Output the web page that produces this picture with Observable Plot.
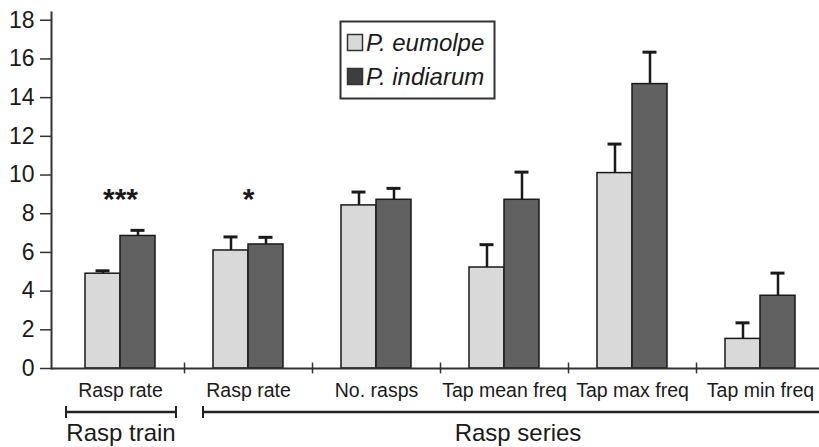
<!DOCTYPE html>
<html>
<head>
<meta charset="utf-8">
<script src="https://cdn.jsdelivr.net/npm/d3@7"></script>
<script src="https://cdn.jsdelivr.net/npm/@observablehq/plot@0.6"></script>
<style>
  html, body { margin: 0; padding: 0; background: #fff; }
  #chart svg { display: block; font-family: "Liberation Sans", Arial, Helvetica, sans-serif; }
</style>
</head>
<body>
<div id="chart"></div>
<script>
// ---- data ----
const keys = ["train_rate", "series_rate", "no_rasps", "tap_mean", "tap_max", "tap_min"];
const categoryLabels = ["Rasp rate", "Rasp rate", "No. rasps", "Tap mean freq", "Tap max freq", "Tap min freq"];
const species = ["P. eumolpe", "P. indiarum"];
const eumolpeMean = [4.9, 6.1, 8.43, 5.22, 10.1, 1.53];
const eumolpeErr  = [0.15, 0.7, 0.69, 1.18, 1.5, 0.83];
const indiarumMean = [6.85, 6.41, 8.72, 8.72, 14.7, 3.76];
const indiarumErr  = [0.29, 0.37, 0.59, 1.43, 1.65, 1.17];
const significance = ["***", "*", "", "", "", ""];
const groupLabels = ["Rasp train", "Rasp series"];
const groupFirst = [0, 1];
const groupLast = [0, 5];
const yTicks = [0, 2, 4, 6, 8, 10, 12, 14, 16, 18];

// ---- layout / style ----
const W = 819, H = 447;
const xRange = [56, 824];
const bw = (xRange[1] - xRange[0]) / keys.length;
const barW = 35, barOut = (bw - 2 * barW) / 2;
const capW = 14;
const lightFill = "#d9d9d9", darkFill = "#616161";
const ink = "#1a1a1a";

const eum = keys.map((k, i) => ({key: k, value: eumolpeMean[i], err: eumolpeErr[i]}));
const ind = keys.map((k, i) => ({key: k, value: indiarumMean[i], err: indiarumErr[i]}));
const sig = keys.map((k, i) => ({key: k, s: significance[i]})).filter(d => d.s);
const labelOf = Object.fromEntries(keys.map((k, i) => [k, categoryLabels[i]]));

const chart = Plot.plot({
  width: W,
  height: H,
  marginLeft: 51,
  marginRight: 0,
  marginTop: 12,
  marginBottom: 79,
  style: {fontFamily: '"Liberation Sans", Arial, Helvetica, sans-serif', color: ink, background: "#fff"},
  x: {type: "band", domain: keys, range: xRange, padding: 0},
  y: {domain: [0, 18.4]},
  marks: [
    Plot.rectY(eum, {x: "key", y: "value", fill: lightFill, stroke: ink, strokeWidth: 1.5,
      insetLeft: barOut, insetRight: barOut + barW}),
    Plot.rectY(ind, {x: "key", y: "value", fill: darkFill, stroke: ink, strokeWidth: 1.5,
      insetLeft: barOut + barW, insetRight: barOut}),
    // error bars
    Plot.ruleX(eum, {x: "key", y1: "value", y2: d => d.value + d.err, dx: -barW / 2, stroke: ink, strokeWidth: 2.5}),
    Plot.ruleX(ind, {x: "key", y1: "value", y2: d => d.value + d.err, dx: barW / 2, stroke: ink, strokeWidth: 2.5}),
    Plot.tickY(eum, {x: "key", y: d => d.value + d.err, stroke: ink, strokeWidth: 3,
      insetLeft: bw / 2 - barW / 2 - capW / 2, insetRight: bw / 2 + barW / 2 - capW / 2}),
    Plot.tickY(ind, {x: "key", y: d => d.value + d.err, stroke: ink, strokeWidth: 3,
      insetLeft: bw / 2 + barW / 2 - capW / 2, insetRight: bw / 2 - barW / 2 - capW / 2}),
    // significance stars
    Plot.text(sig, {x: "key", y: () => 9.16, text: "s", fontSize: 30, fontWeight: "bold", fill: ink, dy: 8}),
    // axes
    Plot.ruleY([0], {stroke: "#333", strokeWidth: 2}),
    Plot.frame({anchor: "left", stroke: "#333", strokeWidth: 2}),
    Plot.ruleX(keys.slice(1), {x: d => d, dx: -bw / 2, y1: () => -0.28, y2: () => 0.28, stroke: "#333", strokeWidth: 1.5}),
    Plot.axisY({ticks: yTicks, tickSize: 11, tickPadding: 6, fontSize: 23, fill: ink, stroke: "#333", strokeWidth: 1.5, label: null, tickFormat: d => String(d)}),
    Plot.axisX({tickSize: 0, tickPadding: 14.5, fontSize: 19.5, fill: ink, label: null, tickFormat: k => labelOf[k]})
  ]
});

document.getElementById("chart").appendChild(chart);

// ---- annotations: group brackets & legend ----
const svg = d3.select(chart);
const xs = chart.scale("x");
const bracketY = 412;
const bracketInsetL = [10, 19];
const bracketInsetR = [8, -9];
groupLabels.forEach((lab, i) => {
  const x0 = xs.apply(keys[groupFirst[i]]) + bracketInsetL[i];
  const x1 = xs.apply(keys[groupLast[i]]) + xs.bandwidth - bracketInsetR[i];
  const g = svg.append("g").attr("stroke", "#222").attr("stroke-width", 2.5);
  g.append("line").attr("x1", x0).attr("x2", x1).attr("y1", bracketY).attr("y2", bracketY);
  g.append("line").attr("x1", x0).attr("x2", x0).attr("y1", bracketY - 6).attr("y2", bracketY + 6).attr("stroke-width", 2);
  if (x1 < W) g.append("line").attr("x1", x1).attr("x2", x1).attr("y1", bracketY - 6).attr("y2", bracketY + 6).attr("stroke-width", 2);
  svg.append("text").attr("x", (x0 + x1) / 2).attr("y", 441).attr("text-anchor", "middle")
    .attr("font-size", 24).attr("fill", ink).text(lab);
});

const leg = svg.append("g").attr("text-anchor", "start");
leg.append("rect").attr("x", 340.5).attr("y", 21.5).attr("width", 154).attr("height", 77)
  .attr("fill", "#fff").attr("stroke", "#333").attr("stroke-width", 2);
species.forEach((sp, i) => {
  const y0 = 34 + i * 34;
  leg.append("rect").attr("x", 347.5).attr("y", y0 + 0.5).attr("width", 15).attr("height", 16)
    .attr("fill", i === 0 ? lightFill : "#3e3e3e").attr("stroke", "#333").attr("stroke-width", 1.5);
  leg.append("text").attr("x", 366).attr("y", y0 + 17).attr("text-anchor", "start")
    .attr("font-size", 24).attr("font-style", "italic").attr("fill", ink).text(sp);
});
</script>
</body>
</html>
